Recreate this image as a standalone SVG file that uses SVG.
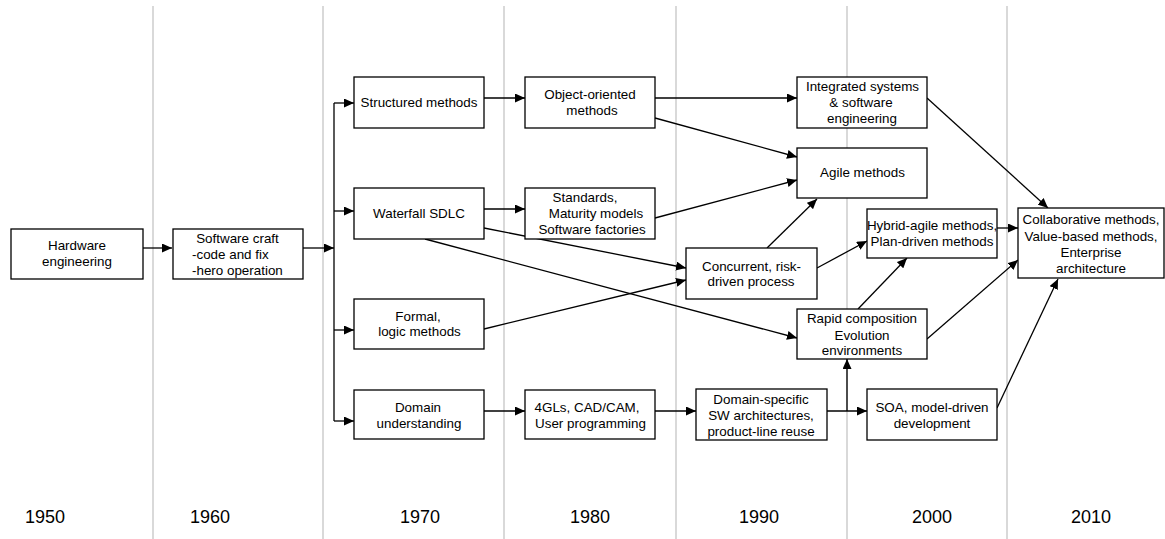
<svg xmlns="http://www.w3.org/2000/svg" width="1165" height="539" viewBox="0 0 1165 539">
<style>
.grid{stroke:#cccccc;stroke-width:1.5;fill:none}
.box{fill:#ffffff;stroke:#000000;stroke-width:1.3}
.t{font-family:"Liberation Sans",Arial,sans-serif;font-size:13.4px;fill:#000000;text-anchor:middle}
.ts{text-anchor:start}
.yr{font-family:"Liberation Sans",Arial,sans-serif;font-size:18px;fill:#000000;text-anchor:middle}
.c{stroke:#000000;stroke-width:1.3;fill:none}
.a{marker-end:url(#arr)}
</style>
<defs>
<marker id="arr" markerUnits="userSpaceOnUse" markerWidth="11" markerHeight="9" refX="10" refY="4.5" orient="auto">
<path d="M0,0 L10,4.5 L0,9 z" fill="#000000"/>
</marker>
</defs>
<rect x="0" y="0" width="1165" height="539" fill="#ffffff"/>
<g id="grid">
<line class="grid" x1="153" y1="6" x2="153" y2="539"/>
<line class="grid" x1="323" y1="6" x2="323" y2="539"/>
<line class="grid" x1="504" y1="6" x2="504" y2="539"/>
<line class="grid" x1="676" y1="6" x2="676" y2="539"/>
<line class="grid" x1="847" y1="6" x2="847" y2="539"/>
<line class="grid" x1="1007" y1="6" x2="1007" y2="539"/>
</g>
<g id="years">
<text class="yr" x="45" y="523">1950</text>
<text class="yr" x="210" y="523">1960</text>
<text class="yr" x="420" y="523">1970</text>
<text class="yr" x="590" y="523">1980</text>
<text class="yr" x="759" y="523">1990</text>
<text class="yr" x="932" y="523">2000</text>
<text class="yr" x="1091" y="523">2010</text>
</g>
<g id="connectors">
<path class="c a" d="M143,248 L172,248"/>
<path class="c a" d="M303,248 L334,248"/>
<path class="c" d="M334,103 L334,421"/>
<path class="c a" d="M334,103 L354,103"/>
<path class="c a" d="M334,211 L354,211"/>
<path class="c a" d="M334,330 L354,330"/>
<path class="c a" d="M334,421 L354,421"/>
<path class="c a" d="M484,98 L525,98"/>
<path class="c a" d="M484,209 L525,209"/>
<path class="c a" d="M484,411 L525,411"/>
<path class="c a" d="M655,411 L696,411"/>
<path class="c a" d="M655,98 L797,98"/>
<path class="c a" d="M655,118 L797,157"/>
<path class="c a" d="M655,218 L797,180"/>
<path class="c a" d="M484,228 L686,268"/>
<path class="c a" d="M484,329 L686,280"/>
<path class="c a" d="M425,239 L797,338"/>
<path class="c a" d="M767,248 L817,199"/>
<path class="c a" d="M817,268 L867,241"/>
<path class="c a" d="M858,309 L907,258"/>
<path class="c a" d="M827,411 L867,411"/>
<path class="c a" d="M847,411 L847,359"/>
<path class="c a" d="M927,98 L1048,208"/>
<path class="c a" d="M997,228 L1018,228"/>
<path class="c a" d="M927,339 L1018,260"/>
<path class="c a" d="M997,408 L1058,279"/>
</g>
<g id="hardware">
<rect class="box" x="11" y="229" width="132" height="50"/>
<text class="t" x="77" y="249.7">Hardware</text>
<text class="t" x="77" y="266.4">engineering</text>
</g>
<g id="software-craft">
<rect class="box" x="173" y="229" width="130" height="50"/>
<text class="t" x="237.5" y="242.7">Software craft</text>
<text class="t ts" x="192" y="258.7">-code and fix</text>
<text class="t ts" x="192" y="274.7">-hero operation</text>
</g>
<g id="structured">
<rect class="box" x="354" y="77" width="130" height="51"/>
<text class="t" x="419" y="107">Structured methods</text>
</g>
<g id="waterfall">
<rect class="box" x="354" y="188" width="130" height="51"/>
<text class="t" x="419" y="217.7">Waterfall SDLC</text>
</g>
<g id="formal">
<rect class="box" x="354" y="299" width="130" height="50"/>
<text class="t" x="418" y="321.4">Formal,</text>
<text class="t" x="419.5" y="336.4">logic methods</text>
</g>
<g id="domain">
<rect class="box" x="354" y="390" width="130" height="49"/>
<text class="t" x="418" y="412.4">Domain</text>
<text class="t" x="419" y="428">understanding</text>
</g>
<g id="object-oriented">
<rect class="box" x="525" y="77" width="130" height="51"/>
<text class="t" x="590" y="99">Object-oriented</text>
<text class="t" x="592" y="114.7">methods</text>
</g>
<g id="standards">
<rect class="box" x="525" y="188" width="130" height="51"/>
<text class="t" x="585" y="202.4">Standards,</text>
<text class="t" x="596" y="218">Maturity models</text>
<text class="t" x="592" y="234">Software factories</text>
</g>
<g id="4gls">
<rect class="box" x="525" y="390" width="130" height="49"/>
<text class="t" x="587" y="412.4">4GLs, CAD/CAM,</text>
<text class="t" x="590.5" y="428">User programming</text>
</g>
<g id="integrated">
<rect class="box" x="797" y="77" width="130" height="51"/>
<text class="t" x="862.5" y="91.4">Integrated systems</text>
<text class="t" x="861" y="107.4">&amp; software</text>
<text class="t" x="862" y="123.4">engineering</text>
</g>
<g id="agile">
<rect class="box" x="797" y="148" width="130" height="50"/>
<text class="t" x="862.5" y="177.4">Agile methods</text>
</g>
<g id="concurrent">
<rect class="box" x="686" y="248" width="131" height="51"/>
<text class="t" x="751.5" y="270.7">Concurrent, risk-</text>
<text class="t" x="751" y="286.4">driven process</text>
</g>
<g id="hybrid">
<rect class="box" x="867" y="209" width="130" height="49"/>
<text class="t" x="932" y="230.4">Hybrid-agile methods,</text>
<text class="t" x="932" y="246">Plan-driven methods</text>
</g>
<g id="rapid">
<rect class="box" x="797" y="309" width="130" height="50"/>
<text class="t" x="862" y="323">Rapid composition</text>
<text class="t" x="862" y="339.7">Evolution</text>
<text class="t" x="862" y="355.4">environments</text>
</g>
<g id="domain-specific">
<rect class="box" x="696" y="389" width="131" height="51"/>
<text class="t" x="761" y="404">Domain-specific</text>
<text class="t" x="761" y="419.7">SW architectures,</text>
<text class="t" x="761" y="435.7">product-line reuse</text>
</g>
<g id="soa">
<rect class="box" x="867" y="389" width="130" height="51"/>
<text class="t" x="932" y="412.4">SOA, model-driven</text>
<text class="t" x="932" y="428">development</text>
</g>
<g id="collaborative">
<rect class="box" x="1018" y="208" width="146" height="70"/>
<text class="t" x="1091" y="223.5">Collaborative methods,</text>
<text class="t" x="1091" y="240.5">Value-based methods,</text>
<text class="t" x="1091" y="257">Enterprise</text>
<text class="t" x="1091" y="273">architecture</text>
</g>
</svg>
